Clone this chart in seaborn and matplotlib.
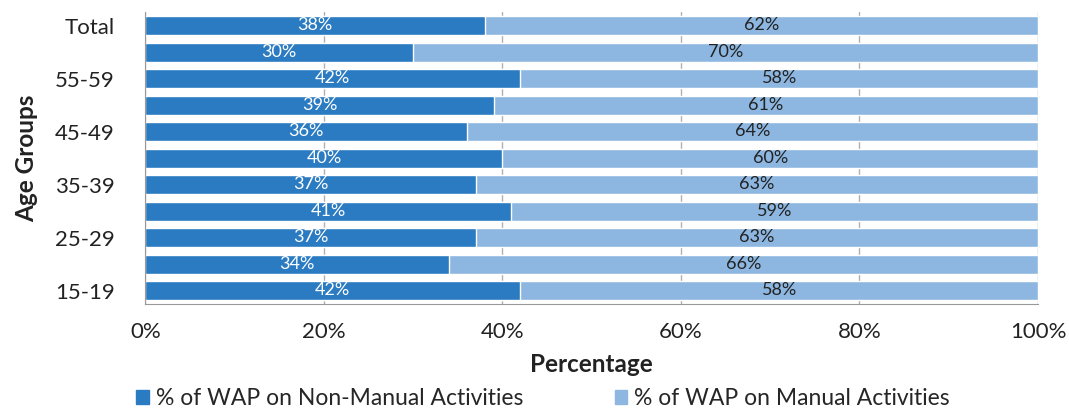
import numpy as np
import pandas as pd
import matplotlib
matplotlib.use('Agg')
import matplotlib.pyplot as plt
import seaborn as sns
from matplotlib.patches import Patch

# Data (top to bottom)
age_groups = ['Total', '60-64', '55-59', '50-54', '45-49', '40-44',
              '35-39', '30-34', '25-29', '20-24', '15-19']
non_manual = [38, 30, 42, 39, 36, 40, 37, 41, 37, 34, 42]
manual = [62, 70, 58, 61, 64, 60, 63, 59, 63, 66, 58]
shown_labels = ['Total', '', '55-59', '', '45-49', '',
                '35-39', '', '25-29', '', '15-19']

df = pd.DataFrame({'age': age_groups, 'non_manual': non_manual, 'manual': manual})
df['total'] = df['non_manual'] + df['manual']

dark_blue = '#2b7bc2'
light_blue = '#8db7e0'

sns.set_style('white')
plt.rcParams['font.family'] = ['Lato', 'DejaVu Sans']

fig = plt.figure(figsize=(10.69, 4.15), dpi=100)
ax = fig.add_axes([0.136, 0.267, 0.835, 0.703])

# light bar = full stack, dark bar drawn on top
sns.barplot(data=df, y='age', x='total', orient='h', order=age_groups,
            color=light_blue, saturation=1, width=0.72, ax=ax)
sns.barplot(data=df, y='age', x='non_manual', orient='h', order=age_groups,
            color=dark_blue, saturation=1, width=0.72, ax=ax)

# segment labels
for i, row in df.iterrows():
    ax.text(row['non_manual'] / 2, i - 0.02, f"{row['non_manual']}%",
            ha='center', va='center', color='white', fontsize=13)
    ax.text(row['non_manual'] + row['manual'] / 2, i - 0.02, f"{row['manual']}%",
            ha='center', va='center', color='#222222', fontsize=13)

ax.set_xlim(0, 100)
ax.set_ylim(10.5, -0.5)
ax.set_xticks(np.arange(0, 101, 20))
ax.set_xticklabels([f'{v}%' for v in range(0, 101, 20)], fontsize=16, color='#222222')
ax.set_yticks(range(len(age_groups)))
ax.set_yticklabels(shown_labels, fontsize=16, color='#222222')
ax.xaxis.grid(True, color='#b0b0b0', linewidth=1)
ax.set_axisbelow(True)
ax.tick_params(axis='x', length=6, color='#999999', pad=10, direction='inout')
ax.tick_params(axis='y', length=0, pad=22)

for side in ['top', 'right']:
    ax.spines[side].set_visible(False)
ax.spines['left'].set_color('#999999')
ax.spines['bottom'].set_color('#999999')

ax.set_xlabel('Percentage', fontsize=17.5, fontweight='bold', labelpad=8, color='#222222')
ax.set_ylabel('Age Groups', fontsize=17.5, fontweight='bold', labelpad=12, color='#222222')

handles = [Patch(color=dark_blue, label='% of WAP on Non-Manual Activities'),
           Patch(color=light_blue, label='% of WAP on Manual Activities')]
fig.legend(handles=handles, loc='lower center', bbox_to_anchor=(0.508, -0.035), ncol=2,
           frameon=False, fontsize=16.5, handlelength=0.55, handleheight=0.55,
           handletextpad=0.3, columnspacing=4.0)

fig.savefig('out.png', dpi=100)
